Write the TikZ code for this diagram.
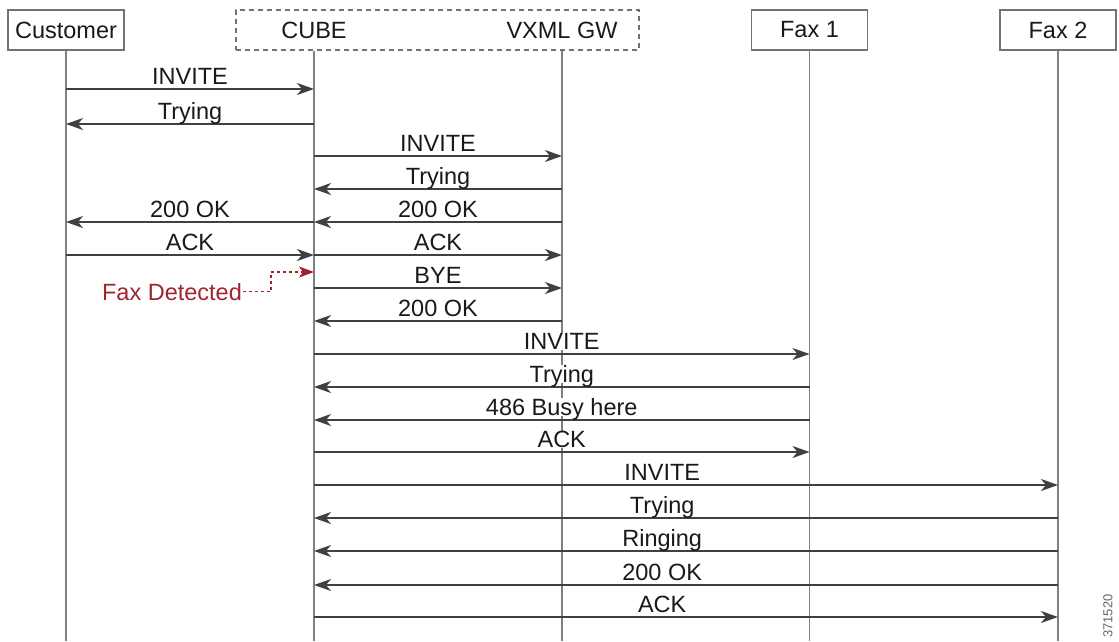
\documentclass[tikz,border=0pt]{standalone}
\usepackage{fontspec}
\setmainfont{Liberation Sans}
\usetikzlibrary{arrows.meta,positioning}

\definecolor{faxred}{RGB}{160,36,48}

\begin{document}
\begin{tikzpicture}[x=1pt,y=-1pt,font=\fontsize{23.5}{27}\selectfont]
  \tikzstyle{head}=[draw=black!55,line width=1.2pt,minimum width=116pt,minimum height=40pt,text=black!90]
  \tikzstyle{life}=[draw=black!50,line width=1.8pt]
  \tikzstyle{msg}=[-{Stealth[length=17pt,width=12pt,inset=5pt]},draw=black!75,line width=1.6pt]
  \tikzstyle{lbl}=[fill=white,inner sep=0.5pt,text depth=0pt,anchor=base,yshift=4.5pt,text=black!90]
  \tikzstyle{fax}=[draw=faxred,line width=1.4pt,dash pattern=on 3pt off 3pt]

  \useasboundingbox (0,0) rectangle (1119,641);

  % heads
  \node[head] (cust) at (66,30) {Customer};
  \node[head,dashed,dash pattern=on 5pt off 4pt,minimum width=403pt] (gw) at (437.5,30) {};
  \node[text=black!90] (cube) at (314,30) {CUBE};
  \node[text=black!90] (vxml) at (562,30) {VXML GW};
  \node[head] (fax1) at (809.5,30) {Fax 1};
  \node[head] (fax2) at (1058,30) {Fax 2};

  % rows
  \coordinate (bot) at (0,641);
  \coordinate (r1) at (0,89);
  \coordinate (r2) at (0,124);
  \coordinate (r3) at (0,156);
  \coordinate (r4) at (0,189);
  \coordinate (r5) at (0,222);
  \coordinate (r6) at (0,255);
  \coordinate (r7) at (0,288);
  \coordinate (r8) at (0,321);
  \coordinate (r9) at (0,354);
  \coordinate (r10) at (0,387);
  \coordinate (r11) at (0,420);
  \coordinate (r12) at (0,452);
  \coordinate (r13) at (0,485);
  \coordinate (r14) at (0,518);
  \coordinate (r15) at (0,551);
  \coordinate (r16) at (0,585);
  \coordinate (r17) at (0,617);
  \coordinate (fdk) at (271,272);

  % lifelines
  \draw[life] (cust.south) -- (cust |- bot);
  \draw[life] (cube |- gw.south) -- (cube |- bot);
  \draw[life] (vxml |- gw.south) -- (vxml |- bot);
  \draw[life] (fax1.south) -- (fax1 |- bot);
  \draw[life] (fax2.south) -- (fax2 |- bot);

  % messages
  \draw[msg] (cust |- r1) -- node[lbl] {INVITE} (cube |- r1);
  \draw[msg] (cube |- r2) -- node[lbl] {Trying} (cust |- r2);
  \draw[msg] (cube |- r3) -- node[lbl] {INVITE} (vxml |- r3);
  \draw[msg] (vxml |- r4) -- node[lbl] {Trying} (cube |- r4);
  \draw[msg] (vxml |- r5) -- node[lbl] {200 OK} (cube |- r5);
  \draw[msg] (cube |- r5) -- node[lbl] {200 OK} (cust |- r5);
  \draw[msg] (cust |- r6) -- node[lbl] {ACK} (cube |- r6);
  \draw[msg] (cube |- r6) -- node[lbl] {ACK} (vxml |- r6);
  \draw[msg] (cube |- r7) -- node[lbl] {BYE} (vxml |- r7);
  \draw[msg] (vxml |- r8) -- node[lbl] {200 OK} (cube |- r8);
  \draw[msg] (cube |- r9) -- node[lbl] {INVITE} (fax1 |- r9);
  \draw[msg] (fax1 |- r10) -- node[lbl] {Trying} (cube |- r10);
  \draw[msg] (fax1 |- r11) -- node[lbl] {486 Busy here} (cube |- r11);
  \draw[msg] (cube |- r12) -- node[lbl] {ACK} (fax1 |- r12);
  \draw[msg] (cube |- r13) -- node[lbl,pos=0.468] {INVITE} (fax2 |- r13);
  \draw[msg] (fax2 |- r14) -- node[lbl,pos=0.532] {Trying} (cube |- r14);
  \draw[msg] (fax2 |- r15) -- node[lbl,pos=0.532] {Ringing} (cube |- r15);
  \draw[msg] (fax2 |- r16) -- node[lbl,pos=0.532] {200 OK} (cube |- r16);
  \draw[msg] (cube |- r17) -- node[lbl,pos=0.468] {ACK} (fax2 |- r17);

  % fax detection
  \node[text=faxred,anchor=base,inner sep=1pt] (fdtxt) at (172,300) {Fax Detected};
  \draw[fax,-{Stealth[length=15pt,width=11pt,inset=4pt]}] (fdtxt.east) -| (fdk) -- (cube |- fdk);

  \node[rotate=90,text=black!60,font=\fontsize{13}{15}\selectfont] (figid) at (1108,616) {371520};
\end{tikzpicture}
\end{document}
